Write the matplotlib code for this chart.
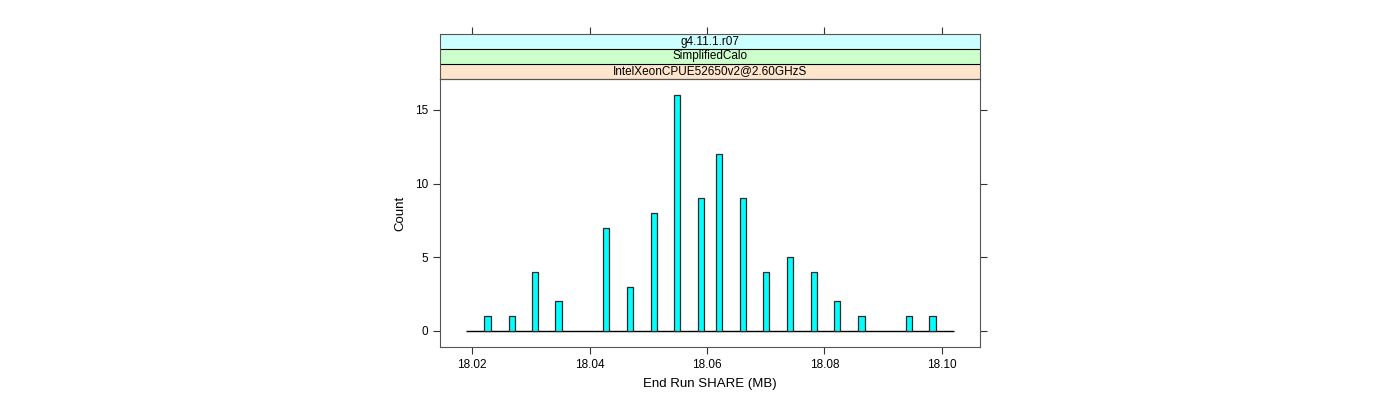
import numpy as np
import matplotlib.pyplot as plt

plt.rcParams.update({'font.family': 'Liberation Sans', 'font.size': 8.5})

# histogram data
share = [18.0226, 18.0267, 18.0307, 18.0347, 18.0428, 18.0469, 18.0509,
         18.0549, 18.0589, 18.0620, 18.0661, 18.0700, 18.0742, 18.0782,
         18.0822, 18.0863, 18.0944, 18.0984]
counts = [1, 1, 4, 2, 7, 3, 8, 16, 9, 12, 9, 4, 5, 4, 2, 1, 1, 1]
lo, hi = 18.0190, 18.1020  # range of the breaks
strips = ['IntelXeonCPUE52650v2@2.60GHzS', 'SimplifiedCalo', 'g4.11.1.r07']
strip_cols = ['#ffe5cc', '#ccffcc', '#ccffff']
xticks = [18.02, 18.04, 18.06, 18.08, 18.10]
xlim = (18.0145, 18.1065)

fig = plt.figure(figsize=(14, 4), dpi=100)
ax = fig.add_axes([440/1400, 1-347/400, 540/1400, 268/400])
ax.bar(share, counts, width=0.00105, color='cyan', edgecolor='#2a2a2a', linewidth=0.9, zorder=3)
ax.hlines(0, lo, hi, color='black', linewidth=1, zorder=2)
ax.set_xlim(*xlim)
ax.set_ylim(-1.09, 17.1)
ax.set_xticks(xticks)
ax.set_xticklabels(['%.2f' % v for v in xticks])
ax.set_yticks([0, 5, 10, 15])
ax.tick_params(direction='out', length=5, width=0.8, color='#333333', right=True, top=False)
ax.tick_params(axis='y', labelright=False)
for s in ax.spines.values():
    s.set_color('#555555')
ax.set_xlabel('End Run SHARE (MB)', fontsize=9.5, labelpad=5)
ax.set_ylabel('Count', fontsize=9.5, labelpad=6)

# strips on top of the panel
sax = fig.add_axes([440/1400, 1-79/400, 540/1400, 45/400])
sax.set_xlim(*xlim)
sax.set_ylim(0, 3)
for i in range(3):
    sax.axhspan(i, i + 1, color=strip_cols[i], zorder=1)
    sax.axhline(i, color='black', linewidth=0.8, zorder=2)
    sax.text(np.mean(xlim), i + 0.5, strips[i], ha='center', va='center', fontsize=8.5, zorder=3)
sax.set_xticks(xticks)
sax.set_yticks([])
sax.tick_params(axis='x', direction='out', length=5, width=0.8, color='#333333',
                top=True, bottom=False, labeltop=False, labelbottom=False)
for s in sax.spines.values():
    s.set_color('#555555')

fig.savefig('out.png', dpi=100)
